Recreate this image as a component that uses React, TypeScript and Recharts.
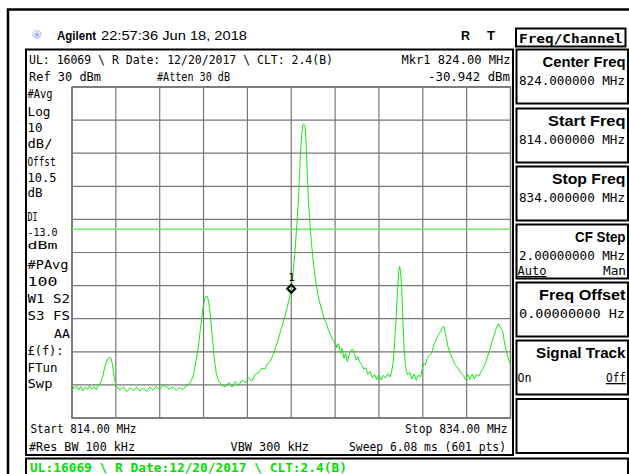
import { LineChart, Line, XAxis, YAxis, CartesianGrid, ReferenceLine, ReferenceDot } from "recharts";

// trace, 814-834 MHz
const freqMHz = [
  814.0, 814.1, 814.2, 814.3, 814.4, 814.5, 814.6, 814.7, 814.8, 814.9,
  815.0, 815.1, 815.2, 815.3, 815.4, 815.5, 815.6, 815.7, 815.78, 815.85,
  815.92, 816.0, 816.1, 816.2, 816.35, 816.5, 816.65, 816.8, 816.95, 817.1,
  817.25, 817.4, 817.55, 817.7, 817.85, 818.0, 818.15, 818.3, 818.45, 818.6,
  818.75, 818.9, 819.05, 819.2, 819.35, 819.45, 819.55, 819.65, 819.75, 819.85,
  819.95, 820.05, 820.12, 820.18, 820.25, 820.32, 820.4, 820.48, 820.58, 820.7,
  820.85, 821.0, 821.15, 821.3, 821.45, 821.6, 821.75, 821.9, 822.05, 822.2,
  822.35, 822.5, 822.65, 822.8, 822.92, 823.05, 823.18, 823.3, 823.42, 823.52,
  823.62, 823.72, 823.82, 823.92, 824.0, 824.08, 824.16, 824.24, 824.31, 824.37,
  824.42, 824.48, 824.53, 824.58, 824.63, 824.68, 824.73, 824.78, 824.85, 824.92,
  825.0, 825.08, 825.15, 825.22, 825.3, 825.4, 825.5, 825.6, 825.7, 825.8,
  825.9, 826.0, 826.08, 826.16, 826.24, 826.32, 826.4, 826.48, 826.56, 826.64,
  826.72, 826.8, 826.88, 826.96, 827.04, 827.12, 827.2, 827.3, 827.4, 827.5,
  827.6, 827.7, 827.8, 827.9, 828.0, 828.1, 828.2, 828.3, 828.4, 828.5,
  828.58, 828.65, 828.72, 828.78, 828.84, 828.9, 828.94, 828.98, 829.03, 829.08,
  829.13, 829.2, 829.3, 829.4, 829.5, 829.6, 829.7, 829.8, 829.9, 829.98,
  830.05, 830.12, 830.2, 830.3, 830.4, 830.5, 830.6, 830.7, 830.8, 830.88,
  830.95, 831.0, 831.08, 831.15, 831.25, 831.35, 831.45, 831.55, 831.65, 831.75,
  831.85, 831.95, 832.05, 832.15, 832.25, 832.35, 832.45, 832.55, 832.65, 832.75,
  832.85, 832.95, 833.05, 833.15, 833.25, 833.35, 833.45, 833.52, 833.58, 833.65,
  833.72, 833.8, 833.9, 834.0,
];
const traceDbm = [
  -60.0, -61.2, -60.4, -61.6, -60.5, -61.8, -60.7, -61.4, -60.2, -61.3,
  -60.5, -61.5, -60.0, -59.5, -57.5, -54.5, -52.5, -51.6, -52.0, -54.0,
  -57.5, -60.0, -61.2, -61.6, -60.6, -62.0, -60.8, -61.8, -60.6, -61.9,
  -60.9, -62.0, -60.7, -61.6, -60.4, -61.5, -60.1, -60.5, -61.3, -60.6,
  -61.7, -60.8, -61.5, -60.3, -59.8, -58.5, -56.8, -53.0, -49.2, -43.5,
  -38.0, -34.0, -33.2, -33.4, -35.5, -39.5, -45.5, -51.5, -56.5, -59.0,
  -60.2, -60.6, -59.3, -60.7, -59.0, -60.2, -58.6, -59.4, -57.9, -58.8,
  -56.9, -56.4, -55.0, -55.2, -53.5, -52.8, -50.8, -48.5, -46.0, -43.5,
  -41.5, -39.0, -36.5, -33.5, -30.9, -26.5, -20.5, -13.0, -6.0, 2.0,
  10.0, 16.0, 18.6, 18.8, 18.4, 13.0, 4.0, -4.0, -11.0, -17.0,
  -22.5, -27.0, -30.0, -33.0, -35.2, -37.5, -40.0, -41.5, -43.5, -45.0,
  -46.5, -47.0, -48.8, -47.5, -50.5, -49.0, -52.0, -50.5, -53.0, -51.0,
  -49.5, -49.3, -50.5, -52.5, -51.5, -53.0, -53.8, -55.2, -54.8, -56.8,
  -55.9, -57.8, -56.9, -58.4, -57.0, -58.5, -57.1, -57.9, -56.6, -57.6,
  -56.0, -53.0, -47.0, -40.0, -32.0, -26.0, -24.2, -25.5, -30.0, -38.0,
  -47.0, -54.0, -57.0, -56.2, -58.2, -56.8, -58.6, -57.0, -57.6, -55.0,
  -53.5, -54.0, -52.0, -51.0, -50.5, -48.0, -46.5, -45.0, -44.0, -43.0,
  -42.2, -43.5, -46.0, -48.5, -50.5, -52.0, -53.5, -54.5, -55.5, -56.5,
  -57.2, -58.4, -56.9, -58.3, -56.8, -58.2, -56.9, -57.4, -56.0, -55.0,
  -53.5, -51.5, -49.5, -47.0, -45.0, -43.0, -41.5, -42.5, -43.0, -44.0,
  -47.0, -49.5, -52.0, -54.0,
];
const freqTicks = [814, 816, 818, 820, 822, 824, 826, 828, 830, 832, 834];
const dbmTicks = [30, 20, 10, 0, -10, -20, -30, -40, -50, -60, -70];
const displayLineDbm = -13.0;
const markerFreq = 824.0;
const markerDbm = -30.942;

const data = freqMHz.map((f, i) => ({ f, dbm: traceDbm[i] }));

const MONO = "'DejaVu Sans Mono', monospace";
const SANS = "'Liberation Sans', Arial, sans-serif";

function Txt({ x, y, w, children, bold = false, fill = "#000", size = 13, family = MONO, underline = false }: any) {
  return (
    <text
      x={x}
      y={y}
      textLength={w}
      lengthAdjust="spacingAndGlyphs"
      fontFamily={family}
      fontSize={size}
      fontWeight={bold ? 700 : 400}
      fill={fill}
      textDecoration={underline ? "underline" : undefined}
    >
      {children}
    </text>
  );
}

function MarkerShape(props: any) {
  const { cx, cy } = props;
  return (
    <g>
      <polygon
        points={`${cx - 4},${cy} ${cx},${cy - 4} ${cx + 4},${cy} ${cx},${cy + 4}`}
        fill="none"
        stroke="#000"
        strokeWidth={2}
      />
      <text x={cx - 3} y={cy - 8} fontFamily={MONO} fontSize={11} fill="#000">1</text>
    </g>
  );
}

function Softkey({ y, title, titleX, value }: any) {
  return (
    <g>
      <rect x={516.5} y={y} width={111.5} height={54} fill="none" stroke="#000" strokeWidth={2} />
      {title && <Txt x={titleX} y={y + 17} w={625.5 - titleX} bold family={SANS} size={14}>{title}</Txt>}
      {value && <Txt x={519} y={y + 35} w={106}>{value}</Txt>}
    </g>
  );
}

function Decor() {
  const star = [0, 30, 60, 90, 120, 150].map((a) => {
    const r = (a * Math.PI) / 180;
    return (
      <line key={a} x1={37 - 5 * Math.cos(r)} y1={35 - 5 * Math.sin(r)} x2={37 + 5 * Math.cos(r)} y2={35 + 5 * Math.sin(r)} stroke="#7f95ff" strokeWidth={1} strokeDasharray="1.5 1" />
    );
  });
  return (
    <svg width={629} height={474} style={{ position: "absolute", left: 0, top: 0 }}>
      <rect x={0} y={0} width={629} height={474} fill="#fff" />
      {/* outer frame */}
      <rect x={8} y={9.5} width={640} height={480} fill="none" stroke="#000" strokeWidth={2.5} />
      {star}
      <Txt x={57} y={40} w={39} bold family={SANS} size={13}>Agilent</Txt>
      <Txt x={101} y={40} w={146} family={SANS} size={13}>22:57:36  Jun 18, 2018</Txt>
      <Txt x={461} y={40} w={9} bold family={SANS} size={13}>R</Txt>
      <Txt x={487} y={40} w={8} bold family={SANS} size={13}>T</Txt>
      <rect x={516} y={28.5} width={109.5} height={18} fill="none" stroke="#000" strokeWidth={2} />
      <Txt x={519} y={43} w={104} bold>Freq/Channel</Txt>

      {/* main panel */}
      <rect x={26} y={49.5} width={487} height={405.5} fill="none" stroke="#000" strokeWidth={2} />
      <Txt x={29} y={64} w={304}>UL: 16069 \ R Date: 12/20/2017 \ CLT: 2.4(B)</Txt>
      <Txt x={401.5} y={64} w={109}>Mkr1  824.00 MHz</Txt>
      <Txt x={29} y={81} w={72}>Ref 30 dBm</Txt>
      <Txt x={157} y={81} w={73}>#Atten 30 dB</Txt>
      <Txt x={428} y={81} w={82}>-30.942 dBm</Txt>

      <Txt x={27.5} y={98} w={25} size={12}>#Avg</Txt>
      <Txt x={27.5} y={116} w={23} size={12}>Log</Txt>
      <Txt x={27.5} y={131.5} w={15} size={12}>10</Txt>
      <Txt x={27.5} y={148} w={25} size={12}>dB/</Txt>
      <Txt x={27.5} y={166} w={28} size={12}>Offst</Txt>
      <Txt x={27.5} y={182} w={29} size={12}>10.5</Txt>
      <Txt x={27.5} y={197} w={15} size={12}>dB</Txt>
      <Txt x={27.5} y={221} w={10} size={12}>DI</Txt>
      <Txt x={27.5} y={235.5} w={30} size={11}>-13.0</Txt>
      <Txt x={27.5} y={248.5} w={30} size={11}>dBm</Txt>
      <Txt x={27.5} y={269} w={41} size={12}>#PAvg</Txt>
      <Txt x={27.5} y={285.5} w={30} size={12}>100</Txt>
      <Txt x={27.5} y={303} w={42.5} size={12}>W1  S2</Txt>
      <Txt x={27.5} y={320} w={42.5} size={12}>S3  FS</Txt>
      <Txt x={54} y={338} w={16} size={12}>AA</Txt>
      <Txt x={27.5} y={355} w={36} size={12}>£(f):</Txt>
      <Txt x={27.5} y={371.5} w={30} size={12}>FTun</Txt>
      <Txt x={27.5} y={388} w={25} size={12}>Swp</Txt>

      <rect x={72} y={87} width={438.5} height={331} fill="none" stroke="#333" strokeWidth={1.2} />

      <Txt x={30.5} y={433} w={106}>Start 814.00 MHz</Txt>
      <Txt x={29} y={451} w={106}>#Res BW 100 kHz</Txt>
      <Txt x={405} y={433} w={102.5}>Stop 834.00 MHz</Txt>
      <Txt x={230.5} y={451} w={78.5}>VBW 300 kHz</Txt>
      <Txt x={349} y={451} w={157}>Sweep 6.08 ms (601 pts)</Txt>

      {/* soft keys */}
      <Softkey y={49.5} title="Center Freq" titleX={542.5} value="824.000000 MHz" />
      <Softkey y={108.5} title="Start Freq" titleX={548} value="814.000000 MHz" />
      <Softkey y={166.5} title="Stop Freq" titleX={552} value="834.000000 MHz" />
      <Softkey y={224.5} title="CF Step" titleX={575} value="2.00000000 MHz" />
      <Txt x={517.5} y={275} w={29} underline>Auto</Txt>
      <Txt x={603} y={275} w={23}>Man</Txt>
      <Softkey y={282.5} title="Freq Offset" titleX={539} value="0.00000000  Hz" />
      <Softkey y={340.5} title="Signal Track" titleX={536} />
      <Txt x={517.5} y={382} w={14}>On</Txt>
      <Txt x={606} y={382} w={20} underline>Off</Txt>
      <Softkey y={399} />

      {/* status line */}
      <rect x={26} y={458.5} width={602} height={30} fill="none" stroke="#000" strokeWidth={2} />
      <Txt x={30} y={471.5} w={317} bold size={12} fill="#00e000">UL:16069 \ R Date:12/20/2017 \ CLT:2.4(B)</Txt>
    </svg>
  );
}

export default function App() {
  return (
    <div style={{ position: "absolute", left: 0, top: 0, width: 629, height: 474, overflow: "hidden" }}>
      <Decor />
      <div style={{ position: "absolute", left: 0, top: 0 }}>
        <LineChart width={629} height={474} data={data} margin={{ top: 87, right: 118.5, bottom: 56, left: 72 }}>
          <XAxis dataKey="f" type="number" domain={[814, 834]} ticks={freqTicks} hide allowDataOverflow />
          <YAxis type="number" domain={[-70, 30]} ticks={dbmTicks} hide allowDataOverflow />
          <CartesianGrid stroke="#777" strokeWidth={1.2} />
          <ReferenceLine y={displayLineDbm} stroke="#6fe86f" strokeWidth={1.5} />
          <Line
            type="linear"
            dataKey="dbm"
            stroke="#12e812"
            strokeWidth={1}
            dot={false}
            isAnimationActive={false}
          />
          <ReferenceDot x={markerFreq} y={markerDbm} r={4} shape={MarkerShape} />
        </LineChart>
      </div>
    </div>
  );
}
